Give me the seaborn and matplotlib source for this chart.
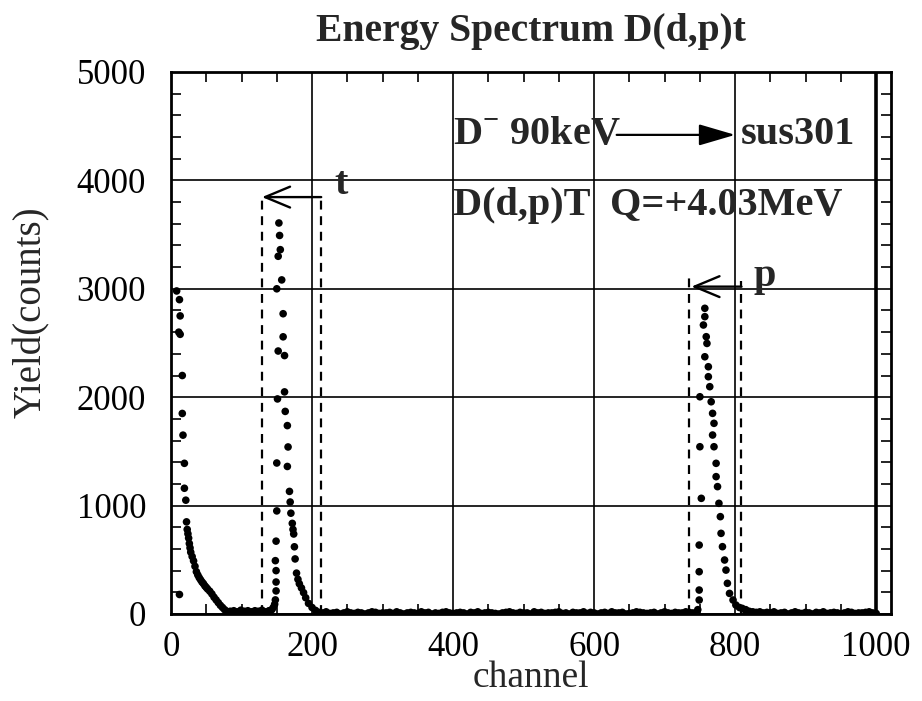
import numpy as np
import pandas as pd
import matplotlib
matplotlib.use("Agg")
import matplotlib.pyplot as plt
from matplotlib.ticker import MultipleLocator
import seaborn as sns

# ---------------- data ----------------
# low-channel (elastic / noise) peak
left_ch = [8, 12, 13, 11, 13, 16, 16, 17, 19, 19, 21, 12]
left_counts = [2980, 2900, 2750, 2600, 2580, 2200, 1850, 1650, 1390, 1160, 1050, 180]

# low-channel decay curve
decay_ch = [22, 23, 24, 25, 26, 27, 28, 30, 32, 34, 36, 38, 40, 42, 44, 46, 48,
            50, 52, 55, 58, 61, 64, 67, 70, 73, 76, 79, 82]
decay_counts = [850, 780, 740, 700, 650, 610, 570, 530, 490, 440, 390, 360, 335,
                315, 295, 280, 260, 245, 230, 210, 185, 155, 130, 105, 80, 60, 40,
                25, 15]

# triton peak
t_ch = [140, 143, 145, 147, 148, 149, 149, 149, 148, 149, 150, 150, 151, 150,
        152, 153, 154, 155, 157, 159, 159, 152, 161, 161, 162, 165, 166, 165,
        168, 169, 170, 172, 173, 174, 175, 176, 178, 180, 182, 185, 188, 191,
        195, 200, 205]
t_counts = [30, 40, 60, 90, 130, 213, 295, 400, 492, 672, 951, 1393, 1984, 3000,
            3300, 3607, 3492, 3361, 3082, 2770, 2557, 2426, 2384, 2049, 1869, 1738,
            1541, 1361, 1131, 1033, 930, 836, 780, 738, 620, 508, 377, 320, 279,
            240, 197, 150, 98, 60, 33]

# proton peak
p_ch = [747, 749, 749, 749, 749, 752, 750, 750, 755, 757, 757, 757, 759, 760,
        762, 762, 764, 766, 768, 770, 768, 770, 773, 773, 775, 777, 779, 780,
        782, 785, 787, 789, 792, 797, 801, 806, 810, 815]
p_counts = [40, 129, 221, 390, 636, 1067, 1543, 2004, 2666, 2820, 2743, 2373,
            2558, 2496, 2281, 2189, 2097, 1958, 1851, 1759, 1651, 1543, 1390, 1267,
            1175, 1021, 898, 744, 621, 498, 405, 283, 190, 129, 83, 60, 52, 40]

# background counts
bg1_ch = np.arange(84, 142, 5)
bg1_counts = [25, 30, 20, 35, 25, 30, 20, 30, 25, 35, 20, 30]
bg2_ch = np.arange(210, 745, 5)
bg2_counts = [15, 10, 20, 5, 10, 15, 0, 10, 20, 10,
              5, 15, 10, 0, 10, 20, 15, 5, 10, 10,
              15, 5, 20, 10, 0, 10, 15, 10, 5, 20,
              10, 15, 0, 10, 5, 15, 20, 10, 5, 10,
              15, 10, 0, 15, 10, 20, 5, 10, 15, 10,
              5, 0, 10, 15, 20, 10, 5, 15, 10, 10,
              0, 20, 10, 15, 5, 10, 10, 15, 20, 5,
              10, 0, 15, 10, 10, 20, 5, 15, 10, 0,
              10, 15, 5, 20, 10, 10, 15, 0, 5, 10,
              20, 15, 10, 5, 10, 15, 0, 10, 20, 10,
              5, 15, 10, 10, 20, 15, 10]
bg3_ch = np.arange(815, 1005, 5)
bg3_counts = [30, 25, 20, 15, 20, 10, 15, 10, 20, 5,
              10, 15, 0, 10, 20, 10, 5, 15, 10, 0,
              15, 10, 20, 5, 10, 15, 10, 0, 10, 20,
              15, 5, 10, 10, 15, 20, 10, 5]

# windows (dashed) and labels
t_window = [129, 213]
t_window_top = 3840
p_window = [734, 809]
p_window_top = [3130, 3070]

x_ticks = [0, 200, 400, 600, 800, 1000]
y_ticks = [0, 1000, 2000, 3000, 4000, 5000]

# ---------------- figure ----------------
sns.set_theme(style="white")
plt.rcParams['font.family'] = ['Liberation Serif', 'DejaVu Serif']
plt.rcParams['mathtext.fontset'] = 'custom'
plt.rcParams['mathtext.rm'] = 'Liberation Serif'
plt.rcParams['mathtext.bf'] = 'Liberation Serif:bold'

fig = plt.figure(figsize=(9.22, 7.01), dpi=100)
ax = fig.add_axes([171 / 922, 1 - 614 / 701, (891 - 171) / 922, (614 - 72) / 701])

df = pd.concat([
    pd.DataFrame({'channel': left_ch, 'counts': left_counts}),
    pd.DataFrame({'channel': decay_ch, 'counts': decay_counts}),
    pd.DataFrame({'channel': t_ch, 'counts': t_counts}),
    pd.DataFrame({'channel': p_ch, 'counts': p_counts}),
    pd.DataFrame({'channel': bg1_ch, 'counts': bg1_counts}),
    pd.DataFrame({'channel': bg2_ch, 'counts': bg2_counts}),
    pd.DataFrame({'channel': bg3_ch, 'counts': bg3_counts}),
], ignore_index=True)

sns.scatterplot(data=df, x='channel', y='counts', color='black', s=30,
                edgecolor='none', ax=ax, legend=False, zorder=3)

ax.set_xlim(0, 1021)
ax.set_ylim(0, 5000)
ax.set_xticks(x_ticks)
ax.set_yticks(y_ticks)
ax.xaxis.set_minor_locator(MultipleLocator(50))
ax.yaxis.set_minor_locator(MultipleLocator(200))
ax.grid(True, which='major', color='black', linewidth=1.2)
ax.get_xgridlines()[-1].set_linewidth(2.6)
ax.tick_params(which='both', direction='in', top=True, right=True,
               bottom=True, left=True, colors='black')
ax.tick_params(which='minor', length=7, width=1.2)
ax.tick_params(axis='y', which='major', length=0, labelsize=25, pad=18)
ax.tick_params(axis='x', which='major', length=0, labelsize=25, pad=12)
for s in ax.spines.values():
    s.set_color('black')
    s.set_linewidth(2)

ax.set_xlabel('channel', fontsize=27, labelpad=-2)
ax.set_ylabel('Yield(counts)', fontsize=28)
ax.yaxis.set_label_coords(-0.168, 0.557)
ax.set_title('Energy Spectrum D(d,p)t', fontsize=28.5, fontweight='bold', pad=22)

# dashed windows
dash = (0, (4, 3))
for xc in t_window:
    ax.plot([xc, xc], [0, t_window_top], color='black', lw=1.6, linestyle=dash, zorder=2)
for xc, top in zip(p_window, p_window_top):
    ax.plot([xc, xc], [0, top], color='black', lw=1.6, linestyle=dash, zorder=2)

# window arrows
open_head = '->,head_length=0.6,head_width=0.25'
ax.annotate('', xy=(t_window[0], 3846), xytext=(t_window[1], 3846),
            arrowprops=dict(arrowstyle=open_head, mutation_scale=30, color='black',
                            lw=1.7, shrinkA=0, shrinkB=0))
ax.text(232, 3960, 't', fontsize=29, fontweight='bold', ha='left', va='center')
ax.annotate('', xy=(p_window[0] + 4, 3020), xytext=(p_window[1], 3020),
            arrowprops=dict(arrowstyle=open_head, mutation_scale=30, color='black',
                            lw=1.7, shrinkA=0, shrinkB=0))
ax.text(826, 3110, 'p', fontsize=29, fontweight='bold', ha='left', va='center')

# reaction annotations
ax.text(400, 4420, r'D$^{\mathbf{-}}$ 90keV', fontsize=29, fontweight='bold',
        ha='left', va='center')
ax.annotate('', xy=(800, 4420), xytext=(632, 4420),
            arrowprops=dict(arrowstyle='-|>,head_length=0.75,head_width=0.22',
                            mutation_scale=30, color='black', lw=1.6,
                            shrinkA=0, shrinkB=0))
ax.text(808, 4420, 'sus301', fontsize=29, fontweight='bold', ha='left', va='center')
ax.text(400, 3770, 'D(d,p)T  Q=+4.03MeV', fontsize=29, fontweight='bold',
        ha='left', va='center')

fig.savefig('out.png', dpi=100)
